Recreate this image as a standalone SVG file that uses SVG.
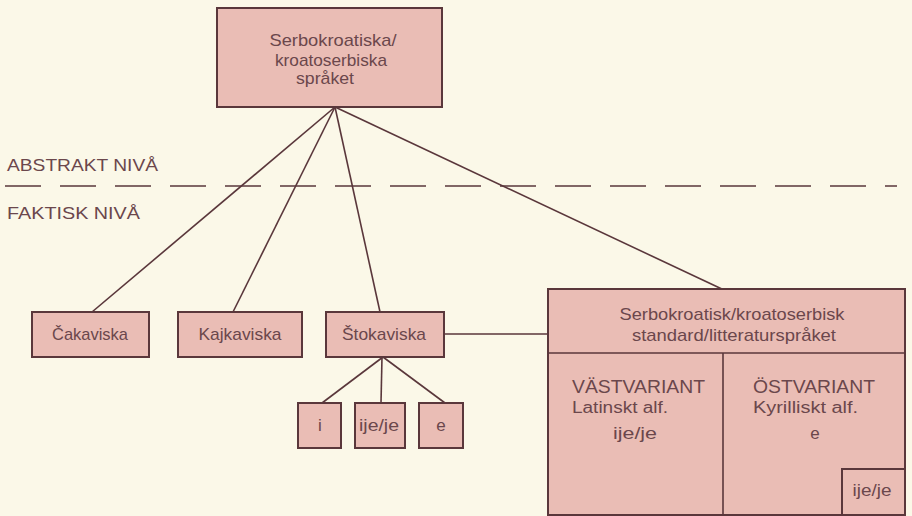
<svg xmlns="http://www.w3.org/2000/svg" width="912" height="516" viewBox="0 0 912 516">
<style>
.box{fill:#eabdb5;stroke:#5a373b;stroke-width:2}
.ln{stroke:#5a373b;stroke-width:1.6;fill:none}
text{font-family:"Liberation Sans","Open Sans",sans-serif;fill:#6b474c;font-size:17px}
.c{text-anchor:middle}
.big{font-size:19px}
.sm{font-size:16px}
</style>
<rect width="912" height="516" fill="#fbf8e8"/>
<g id="connectors">
<line class="ln" x1="335" y1="107" x2="92" y2="312"/>
<line class="ln" x1="335" y1="107" x2="233" y2="312"/>
<line class="ln" x1="335" y1="107" x2="380" y2="312"/>
<line class="ln" x1="335" y1="107" x2="724" y2="290"/>
<line class="ln" x1="383" y1="357" x2="322" y2="403"/>
<line class="ln" x1="382" y1="357" x2="381" y2="403"/>
<line class="ln" x1="383" y1="357" x2="445" y2="403"/>
<line class="ln" x1="444" y1="334" x2="548" y2="334"/>
</g>
<g id="level-line">
<line class="ln" x1="5" y1="186" x2="897" y2="186" stroke-dasharray="36 19" stroke-width="2"/>
<text x="7" y="171" font-size="15" textLength="151" lengthAdjust="spacingAndGlyphs">ABSTRAKT NIVÅ</text>
<text x="7" y="219" font-size="15" textLength="133" lengthAdjust="spacingAndGlyphs">FAKTISK NIVÅ</text>
</g>
<g id="root">
<rect class="box" x="217" y="8" width="225" height="99"/>
<text class="c" x="333" y="46" textLength="127" lengthAdjust="spacingAndGlyphs">Serbokroatiska/</text>
<text class="c" x="331" y="66" textLength="112" lengthAdjust="spacingAndGlyphs">kroatoserbiska</text>
<text class="c" x="325" y="84" textLength="58" lengthAdjust="spacingAndGlyphs">språket</text>
</g>
<g id="cakaviska">
<rect class="box" x="32" y="312" width="117" height="45"/>
<text class="c" x="90" y="340" textLength="76" lengthAdjust="spacingAndGlyphs">Čakaviska</text>
</g>
<g id="kajkaviska">
<rect class="box" x="178" y="312" width="124" height="45"/>
<text class="c" x="240" y="340" textLength="83" lengthAdjust="spacingAndGlyphs">Kajkaviska</text>
</g>
<g id="stokaviska">
<rect class="box" x="326" y="312" width="118" height="45"/>
<text class="c" x="384" y="340" textLength="84" lengthAdjust="spacingAndGlyphs">Štokaviska</text>
</g>
<g id="i">
<rect class="box" x="298" y="403" width="43" height="45"/>
<text class="c" x="320" y="431">i</text>
</g>
<g id="ijeje">
<rect class="box" x="355" y="403" width="50" height="45"/>
<text class="c" x="379" y="431" textLength="40" lengthAdjust="spacingAndGlyphs">ije/je</text>
</g>
<g id="e">
<rect class="box" x="419" y="403" width="44" height="45"/>
<text class="c" x="441" y="431">e</text>
</g>
<g id="standard">
<rect class="box" x="548" y="289" width="357" height="226"/>
<line class="ln" x1="548" y1="353" x2="905" y2="353" stroke-width="2"/>
<line class="ln" x1="723" y1="353" x2="723" y2="515" stroke-width="2"/>
<text class="c" x="732" y="320" textLength="225" lengthAdjust="spacingAndGlyphs">Serbokroatisk/kroatoserbisk</text>
<text class="c" x="734" y="341" textLength="204" lengthAdjust="spacingAndGlyphs">standard/litteraturspråket</text>
<text class="big" x="572" y="393" textLength="133" lengthAdjust="spacingAndGlyphs">VÄSTVARIANT</text>
<text class="sm" x="572" y="413" textLength="96" lengthAdjust="spacingAndGlyphs">Latinskt alf.</text>
<text class="c" x="635" y="439" textLength="44" lengthAdjust="spacingAndGlyphs">ije/je</text>
<text class="big" x="753" y="393" textLength="122" lengthAdjust="spacingAndGlyphs">ÖSTVARIANT</text>
<text class="sm" x="753" y="413" textLength="105" lengthAdjust="spacingAndGlyphs">Kyrilliskt alf.</text>
<text class="c" x="815" y="439">e</text>
<rect class="box" x="842" y="469" width="63" height="46"/>
<text class="c" x="872" y="496" textLength="39" lengthAdjust="spacingAndGlyphs">ije/je</text>
</g>
</svg>
